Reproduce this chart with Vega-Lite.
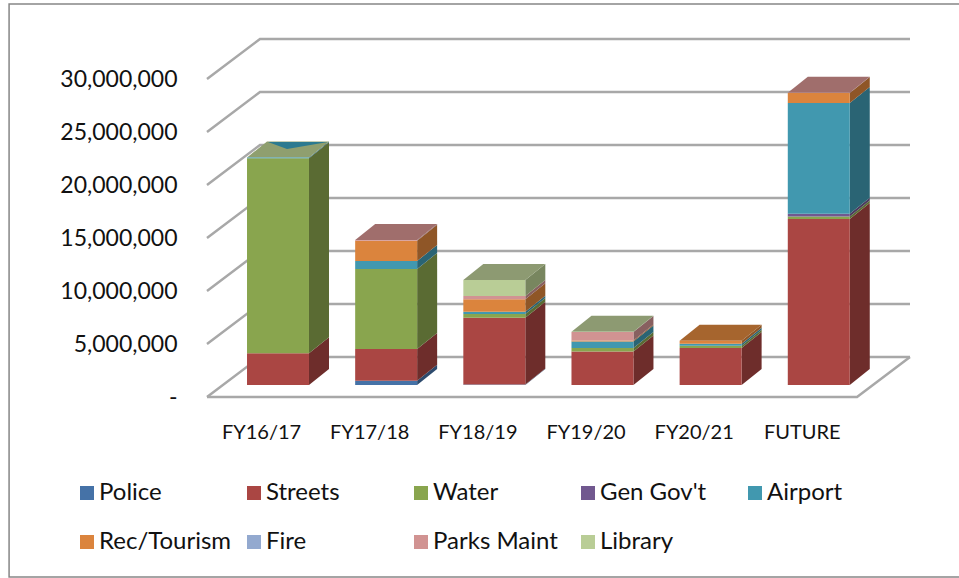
{
"$schema":"https://vega.github.io/schema/vega-lite/v6.json",
"width":703,"height":359,
"autosize":"none",
"padding":{"left":207,"top":38,"right":49,"bottom":181},
"background":"white",
"config":{"view":{"stroke":null},"font":"Lato"},
"datasets":{
"costs":[
{"period":"FY16/17","idx":0,"series":"Streets","order":2,"value":3000000},
{"period":"FY16/17","idx":0,"series":"Water","order":3,"value":18400000},
{"period":"FY16/17","idx":0,"series":"Airport","order":5,"value":60000},
{"period":"FY17/18","idx":1,"series":"Police","order":1,"value":400000},
{"period":"FY17/18","idx":1,"series":"Streets","order":2,"value":3000000},
{"period":"FY17/18","idx":1,"series":"Water","order":3,"value":7550000},
{"period":"FY17/18","idx":1,"series":"Airport","order":5,"value":750000},
{"period":"FY17/18","idx":1,"series":"Rec/Tourism","order":6,"value":1900000},
{"period":"FY17/18","idx":1,"series":"Parks Maint","order":8,"value":80000},
{"period":"FY18/19","idx":2,"series":"Police","order":1,"value":50000},
{"period":"FY18/19","idx":2,"series":"Streets","order":2,"value":6300000},
{"period":"FY18/19","idx":2,"series":"Water","order":3,"value":350000},
{"period":"FY18/19","idx":2,"series":"Airport","order":5,"value":200000},
{"period":"FY18/19","idx":2,"series":"Rec/Tourism","order":6,"value":1200000},
{"period":"FY18/19","idx":2,"series":"Parks Maint","order":8,"value":300000},
{"period":"FY18/19","idx":2,"series":"Library","order":9,"value":1500000},
{"period":"FY19/20","idx":3,"series":"Streets","order":2,"value":3150000},
{"period":"FY19/20","idx":3,"series":"Water","order":3,"value":350000},
{"period":"FY19/20","idx":3,"series":"Airport","order":5,"value":600000},
{"period":"FY19/20","idx":3,"series":"Rec/Tourism","order":6,"value":100000},
{"period":"FY19/20","idx":3,"series":"Parks Maint","order":8,"value":800000},
{"period":"FY19/20","idx":3,"series":"Library","order":9,"value":20000},
{"period":"FY20/21","idx":4,"series":"Streets","order":2,"value":3500000},
{"period":"FY20/21","idx":4,"series":"Water","order":3,"value":200000},
{"period":"FY20/21","idx":4,"series":"Airport","order":5,"value":200000},
{"period":"FY20/21","idx":4,"series":"Rec/Tourism","order":6,"value":270000},
{"period":"FUTURE","idx":5,"series":"Streets","order":2,"value":15650000},
{"period":"FUTURE","idx":5,"series":"Water","order":3,"value":250000},
{"period":"FUTURE","idx":5,"series":"Gen Gov't","order":4,"value":250000},
{"period":"FUTURE","idx":5,"series":"Airport","order":5,"value":10450000},
{"period":"FUTURE","idx":5,"series":"Rec/Tourism","order":6,"value":950000},
{"period":"FUTURE","idx":5,"series":"Parks Maint","order":8,"value":20000}
],
"ticks":[{"tick":0},{"tick":5000000},{"tick":10000000},{"tick":15000000},{"tick":20000000},{"tick":25000000},{"tick":30000000}]
},
"layer":[
{
"data":{"values":[{"frame":1}]},
"mark":{"type":"rect","fill":null,"stroke":"#868686","strokeWidth":1.5},
"encoding":{
"x":{"datum":-1.83,"type":"quantitative","scale":{"domain":[0,6.5],"nice":false,"zero":false},
"axis":{"title":null,"orient":"bottom","values":[0.5,1.5,2.5,3.5,4.5,5.5],"labelExpr":"['FY16/17','FY17/18','FY18/19','FY19/20','FY20/21','FUTURE'][floor(datum.value)]","ticks":false,"domain":false,"grid":false,"labelPadding":25,"labelFontSize":20,"labelColor":"#111111","labelFont":"Lato"}},
"x2":{"datum":7.2},
"y":{"datum":37080000,"type":"quantitative","scale":{"domain":[0,33868000],"nice":false,"zero":false},
"axis":{"title":null,"values":[0,5000000,10000000,15000000,20000000,25000000,30000000],"labelExpr":"datum.value==0?'-':format(datum.value,',')","ticks":false,"domain":false,"grid":false,"labelPadding":30,"labelFontSize":23,"labelColor":"#111111","labelFont":"Lato"}},
"y2":{"datum":-16980000}
}
},
{
"data":{"name":"ticks"},
"transform":[
{"calculate":"[0,1,2]","as":"s"},
{"flatten":["s"]},
{"calculate":"[0,0.49,6.5][datum.s]","as":"gx"},
{"calculate":"datum.tick+(datum.s>0?3774000:0)","as":"gy"}
],
"mark":{"type":"line","color":"#a8a8a8","strokeWidth":2.5},
"encoding":{
"x":{"field":"gx","type":"quantitative","axis":null},
"y":{"field":"gy","type":"quantitative","axis":null},
"detail":{"field":"tick"}
}
},
{
"data":{"values":[{"corner":0},{"corner":1},{"corner":2}]},
"transform":[
{"calculate":"[0,6.01,6.5][datum.corner]","as":"gx"},
{"calculate":"[0,0,3774000][datum.corner]","as":"gy"}
],
"mark":{"type":"line","color":"#a8a8a8","strokeWidth":2.5},
"encoding":{
"x":{"field":"gx","type":"quantitative","axis":null},
"y":{"field":"gy","type":"quantitative","axis":null}
}
},
{
"data":{"name":"costs"},
"transform":[
{"stack":"value","groupby":["period"],"sort":[{"field":"order"}],"as":["v0","v1"]},
{"calculate":"[0,1]","as":"d"},{"flatten":["d"]},
{"calculate":"datum.idx+0.943+0.185*datum.d","as":"sx"},
{"calculate":"datum.v0+1132000+1509000*datum.d","as":"slo"},
{"calculate":"datum.v1+1132000+1509000*datum.d","as":"shi"}
],
"mark":{"type":"area","interpolate":"linear"},
"encoding":{
"x":{"field":"sx","type":"quantitative","axis":null},
"y":{"field":"slo","type":"quantitative","axis":null,"stack":null},
"y2":{"field":"shi"},
"detail":{"field":"period"},
"color":{"field":"series","type":"nominal","legend":null,"scale":{"domain":["Police","Streets","Water","Gen Gov't","Airport","Rec/Tourism","Fire","Parks Maint","Library"],"range":["#2d4a6d","#6e2d2b","#5a6b33","#4a3a5d","#2a6474","#8f5627","#60708a","#886060","#78865f"]}}
}
},
{
"data":{"name":"costs"},
"transform":[
{"stack":"value","groupby":["period"],"sort":[{"field":"order"}],"as":["v0","v1"]},
{"joinaggregate":[{"op":"max","field":"v1","as":"peak"}],"groupby":["period"]},
{"filter":"datum.v1==datum.peak"},
{"calculate":"datum.period=='FY16/17'?'Water':datum.series","as":"face"},
{"calculate":"[0,1]","as":"d"},{"flatten":["d"]},
{"calculate":"datum.idx+0.37+0.185*datum.d","as":"xa"},
{"calculate":"datum.idx+0.943+0.185*datum.d","as":"xb"},
{"calculate":"datum.v1+1132000+1509000*datum.d","as":"ty"}
],
"mark":{"type":"area","orient":"horizontal"},
"encoding":{
"y":{"field":"ty","type":"quantitative","axis":null},
"x":{"field":"xa","type":"quantitative","axis":null,"stack":null},
"x2":{"field":"xb"},
"detail":{"field":"period"},
"color":{"field":"face","type":"nominal","legend":null,"scale":{"domain":["Police","Streets","Water","Gen Gov't","Airport","Rec/Tourism","Fire","Parks Maint","Library"],"range":["#5f7a9c","#a06e6c","#8f9f6f","#7d6f90","#4f8a9a","#a6652e","#93a9cf","#a06e6c","#8d9a72"]}}
}
},
{
"data":{"name":"costs"},
"transform":[
{"filter":"datum.period=='FY16/17'&&datum.series=='Airport'"},
{"stack":"value","groupby":["period"],"as":["v0","v1"]},
{"calculate":"[0,1]","as":"d"},{"flatten":["d"]},
{"calculate":"datum.d==1?0.564:0.74","as":"xa"},
{"calculate":"datum.d==1?1.118:0.74","as":"xb"},
{"calculate":"datum.d==1?24060000:23400000","as":"ty"}
],
"mark":{"type":"area","orient":"horizontal","color":"#2c7a90"},
"encoding":{
"y":{"field":"ty","type":"quantitative","axis":null},
"x":{"field":"xa","type":"quantitative","axis":null,"stack":null},
"x2":{"field":"xb"}
}
},
{
"data":{"name":"costs"},
"transform":[
{"stack":"value","groupby":["period"],"sort":[{"field":"order"}],"as":["v0","v1"]},
{"calculate":"datum.idx+0.37","as":"fx0"},
{"calculate":"datum.idx+0.943","as":"fx1"},
{"calculate":"datum.v0+1132000","as":"fy0"},
{"calculate":"datum.v1+1132000","as":"fy1"}
],
"mark":{"type":"rect"},
"encoding":{
"x":{"field":"fx0","type":"quantitative","axis":null},
"x2":{"field":"fx1"},
"y":{"field":"fy0","type":"quantitative","axis":null},
"y2":{"field":"fy1"},
"color":{"field":"series","type":"nominal",
"scale":{"domain":["Police","Streets","Water","Gen Gov't","Airport","Rec/Tourism","Fire","Parks Maint","Library"],"range":["#4572a7","#aa4643","#89a54e","#71588f","#4198af","#db843d","#93a9cf","#d19392","#b9cd96"]},
"legend":{"title":null,"orient":"none","direction":"horizontal","legendX":-132,"legendY":443,"columns":5,"gridAlign":"all","symbolType":"square","symbolSize":196,"symbolStrokeWidth":0,"symbolOpacity":1,"labelFontSize":24,"labelFont":"Lato","labelColor":"#111111","labelOffset":0,"columnPadding":10,"rowPadding":25,"labelLimit":200}}
}
}
],
"resolve":{"scale":{"color":"independent"},"axis":{"x":"independent","y":"independent"}}
}
